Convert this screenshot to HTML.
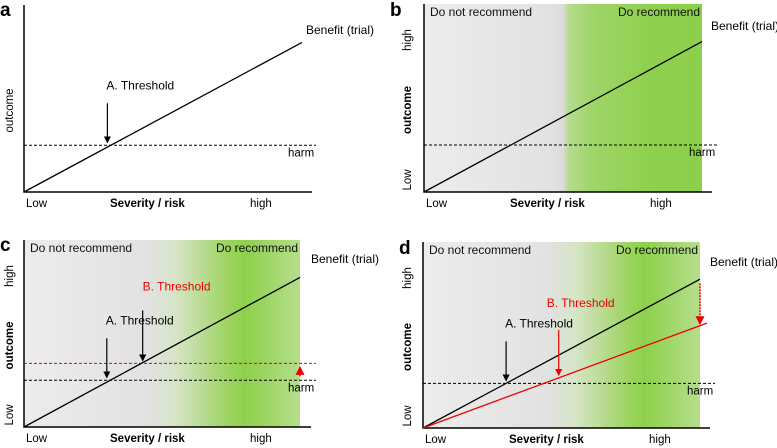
<!DOCTYPE html>
<html><head><meta charset="utf-8"><style>
body{margin:0;background:#fff}
svg{display:block;font-family:"Liberation Sans",sans-serif}
</style></head><body>
<svg id="fig" width="777" height="448" viewBox="0 0 777 448">
<defs>
<linearGradient id="gb" x1="0" x2="1" y1="0" y2="0">
<stop offset="0" stop-color="#ececec"/><stop offset="0.45" stop-color="#e2e2e2"/><stop offset="0.5" stop-color="#dcdcdc"/>
<stop offset="0.52" stop-color="#b5dc8e"/><stop offset="0.6" stop-color="#a0d56a"/><stop offset="0.8" stop-color="#8fd04f"/><stop offset="1" stop-color="#8ccf4a"/>
</linearGradient>
<linearGradient id="gc" x1="0" x2="1" y1="0" y2="0">
<stop offset="0" stop-color="#ececec"/><stop offset="0.45" stop-color="#e2e2e2"/><stop offset="0.55" stop-color="#d6e4c6"/>
<stop offset="0.75" stop-color="#9ad35c"/><stop offset="0.8" stop-color="#8ed04c"/><stop offset="1" stop-color="#b6de8c"/>
</linearGradient>
<marker id="ah" viewBox="0 0 6 6" refX="5" refY="3" markerWidth="6" markerHeight="6" orient="auto"><path d="M0,0L6,3L0,6z" fill="#000"/></marker>
<marker id="ahr" viewBox="0 0 6 6" refX="5" refY="3" markerWidth="6" markerHeight="6" orient="auto"><path d="M0,0L6,3L0,6z" fill="#e00"/></marker>
</defs>
</svg>
<script>
// data (normalized 0..1 in each panel's axis space)
const panelIds = ['a','b','c','d'];
const benefitEnd = [0.80, 0.80, 0.80, 0.80];
const harmLevel = [0.25, 0.25, 0.25, 0.24];
const raisedHarm = [null, null, 0.34, null];
const reducedBenefitEnd = [null, null, null, 0.55];
const thresholdAX = [0.30, 0.30, 0.30, 0.30];
const thresholdBX = [null, null, 0.43, 0.49];

const P = [
 {ox:24, oy:192, top:5, w:278, xe:312, hx:316, shade:null, bx:306, by:34, lx:0, ly:16, ytitle:9, bold:false},
 {ox:424, oy:192, top:4, w:278, xe:712, hx:717, shade:'gb', bx:711, by:30, lx:390, ly:16, ytitle:407, bold:true},
 {ox:24, oy:427, top:240, w:276, xe:311, hx:316, shade:'gc', bx:311, by:263, lx:0, ly:251, ytitle:9, bold:true},
 {ox:423, oy:428, top:242, w:277, xe:710, hx:715, shade:'gc', bx:710, by:266, lx:399, ly:254, ytitle:407, bold:true}
];
const svg = document.getElementById('fig');
const NS='http://www.w3.org/2000/svg';
function mk(tag, attrs, text){const e=document.createElementNS(NS,tag);for(const k in attrs)e.setAttribute(k,attrs[k]);if(text!=null)e.textContent=text;svg.appendChild(e);return e;}
const H = i => P[i].oy - P[i].top;
const sx = (i,v) => P[i].ox + v*P[i].w;
const sy = (i,v) => P[i].oy - v*H(i);

panelIds.forEach((id,i)=>{
 const p=P[i];
 if(p.shade){
  const r=mk('rect',{x:p.ox,y:p.top,width:p.w,height:H(i),fill:'url(#'+p.shade+')'});
  
  
  const t1=mk('text',{x:p.ox+6,y:p.top+12,'font-size':12,fill:'#111'},'Do not recommend');
  
  
  const t2=mk('text',{x:p.ox+p.w-2,y:p.top+12,'font-size':12,fill:'#111','text-anchor':'end'},'Do recommend');
  
  
 }
 // axes
 const ax=mk('path',{d:`M${p.ox},${p.top}V${p.oy}H${p.xe}`,stroke:'#000','stroke-width':1.5,fill:'none'});
 
 
 const pl=mk('text',{x:p.lx,y:p.ly,'font-size':19,'font-weight':'bold'},id);
 
 
 // harm
 const hl=mk('line',{x1:p.ox,x2:p.hx,y1:sy(i,harmLevel[i]),y2:sy(i,harmLevel[i]),stroke:'#000','stroke-dasharray':'3,2','stroke-width':1});
 
 
 const ht=mk('text',{x:p.hx-28,y:sy(i,harmLevel[i])+11,'font-size':11.5},'harm');
 
 
 if(raisedHarm[i]!=null){
  const rl=mk('line',{x1:p.ox,x2:p.hx,y1:sy(i,raisedHarm[i]),y2:sy(i,raisedHarm[i]),stroke:'#e00','stroke-dasharray':'3,2','stroke-width':1});
  
  
  const ra=mk('line',{x1:sx(i,1),x2:sx(i,1),y1:sy(i,harmLevel[i])-4,y2:sy(i,raisedHarm[i])+4,stroke:'#e00','stroke-width':1.5,'stroke-dasharray':'2,1','marker-end':'url(#ahr)'});
  
  
 }
 // benefit
 const bl=mk('line',{x1:sx(i,0),y1:sy(i,0),x2:sx(i,1),y2:sy(i,benefitEnd[i]),stroke:'#000','stroke-width':1.3});
 
 
 const bt=mk('text',{x:p.bx,y:p.by,'font-size':12},'Benefit (trial)');
 
 
 if(reducedBenefitEnd[i]!=null){
  const rb=mk('line',{x1:sx(i,0),y1:sy(i,0),x2:sx(i,1.025),y2:sy(i,reducedBenefitEnd[i]*1.025),stroke:'#e00','stroke-width':1.3});
  
  
  const da=mk('line',{x1:sx(i,1),x2:sx(i,1),y1:sy(i,benefitEnd[i])+4,y2:sy(i,reducedBenefitEnd[i])-2,stroke:'#e00','stroke-width':1.5,'stroke-dasharray':'2,1','marker-end':'url(#ahr)'});
  
  
 }
 // threshold A
 if(i!==1){
  const xa=sx(i,thresholdAX[i]), ya=sy(i,harmLevel[i]);
  const aa=mk('line',{x1:xa,x2:xa,y1:ya-42,y2:ya-3,stroke:'#000','stroke-width':1.2,'marker-end':'url(#ah)'});
  
  
  const at=mk('text',{x:xa-1,y:ya-56,'font-size':12},'A. Threshold');
  
  
 }
 if(thresholdBX[i]!=null){
  const xb=sx(i,thresholdBX[i]);
  const yb= i===2 ? sy(i,raisedHarm[i]) : sy(i,thresholdBX[i]*reducedBenefitEnd[i]);
  const col= i===2?'#000':'#e00';
  const ba=mk('line',{x1:xb,x2:xb,y1:yb-(i===2?53:48),y2:yb-3,stroke:col,'stroke-width':1.2,'marker-end':i===2?'url(#ah)':'url(#ahr)'});
  
  
  const btx=mk('text',{x:xb-(i===2?0:12),y:yb-(i===2?73:71),'font-size':12,fill:'#e00'},'B. Threshold');
  
  
 }
 // x labels
 const xy=p.oy+15;
 const l1=mk('text',{x:p.ox+2,y:xy,'font-size':11.5},'Low');
 
 
 const l2=mk('text',{x:p.ox+86,y:xy,'font-size':11.5,'font-weight':'bold'},'Severity / risk');
 
 
 const l3=mk('text',{x:p.ox+226,y:xy,'font-size':11.5},'high');
 
 
 // y labels
 const midY=(p.oy+p.top)/2+12;
 const yt=mk('text',{transform:`translate(${p.ytitle+4},${midY}) rotate(-90)`,'font-size':11.5,'font-weight':p.bold?'bold':'normal','text-anchor':'middle'},'outcome');
 
 
 if(i!==0){
  const yh=mk('text',{transform:`translate(${p.ytitle+4},${p.top+36}) rotate(-90)`,'font-size':11.5,'text-anchor':'middle'},'high');
  
  
  const yl=mk('text',{transform:`translate(${p.ytitle+4},${p.oy-12}) rotate(-90)`,'font-size':11.5,'text-anchor':'middle'},'Low');
  
  
 }
});
</script>
</body></html>
